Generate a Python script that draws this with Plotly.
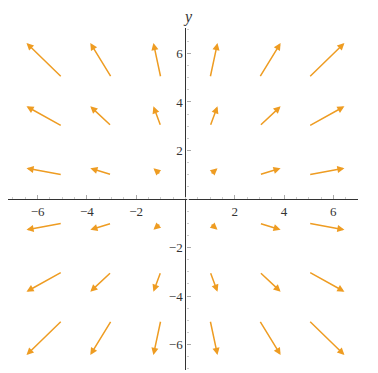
import plotly.graph_objects as go

# grid of arrow tails
x_points = [-5, -3, -1, 1, 3, 5]
y_points = [-5, -3, -1, 1, 3, 5]

# arrow components (dx per column, dy per row)
dx_by_col = [-1.45, -0.86, -0.30, 0.30, 0.86, 1.45]
dy_by_row = [-1.43, -0.82, -0.27, 0.27, 0.82, 1.43]

tick_vals = [-6, -4, -2, 2, 4, 6]
tick_text = ["\u22126", "\u22124", "\u22122", "2", "4", "6"]

x_range = [-7.2, 7.0]
y_range = [-7.05, 7.05]

arrow_color = "#EE9C22"
axis_color = "#333333"
font_family = "Liberation Serif, Times New Roman, serif"

fig = go.Figure()
# invisible trace so the axes exist
fig.add_trace(go.Scatter(x=x_points, y=y_points, mode="markers",
                         marker=dict(opacity=0), hoverinfo="skip",
                         showlegend=False))

annotations = []
for i, x0 in enumerate(x_points):
    for j, y0 in enumerate(y_points):
        annotations.append(dict(
            x=x0 + dx_by_col[i], y=y0 + dy_by_row[j],
            ax=x0, ay=y0, xref="x", yref="y", axref="x", ayref="y",
            showarrow=True, arrowhead=2, arrowsize=0.95, arrowwidth=1.5,
            arrowcolor=arrow_color, standoff=0, text=""))

# axis labels
annotations.append(dict(text="<i>x</i>", xref="paper", yref="y", x=1, y=0,
                        xanchor="left", yanchor="middle", xshift=10,
                        showarrow=False,
                        font=dict(family=font_family, size=17, color=axis_color)))
annotations.append(dict(text="<i>y</i>", xref="x", yref="paper", x=0, y=1,
                        xanchor="center", yanchor="bottom", xshift=3, yshift=0,
                        showarrow=False,
                        font=dict(family=font_family, size=16, color=axis_color)))

x_zero = (0 - x_range[0]) / (x_range[1] - x_range[0])
y_zero = (0 - y_range[0]) / (y_range[1] - y_range[0])

axis_common = dict(showgrid=False, zeroline=False, showline=True,
                   linecolor=axis_color, linewidth=1.3,
                   tickvals=tick_vals, ticktext=tick_text,
                   ticks="inside", ticklen=4, tickcolor="#aaaaaa", tickwidth=1,
                   minor=dict(dtick=0.5, ticks="inside", ticklen=2,
                              tickcolor="#cccccc"),
                   tickfont=dict(family=font_family, size=13, color=axis_color),
                   anchor="free", fixedrange=True)

# the page body adds 8px on the left and top, so the figure is 8px smaller
fig.update_layout(
    width=370, height=365,
    margin=dict(l=0, r=20, t=20, b=3),
    font=dict(family=font_family, color=axis_color),
    plot_bgcolor="white", paper_bgcolor="white",
    xaxis=dict(range=x_range, position=y_zero, **axis_common),
    yaxis=dict(range=y_range, position=x_zero, **axis_common),
    annotations=annotations,
    showlegend=False,
)

fig.write_html("out.html")
